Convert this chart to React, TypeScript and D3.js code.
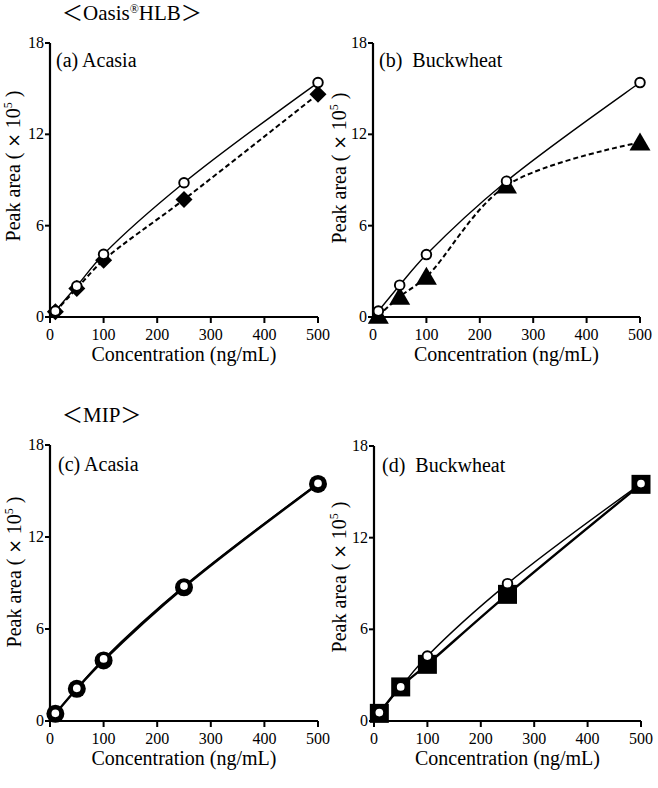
import React from "react";
import * as d3 from "d3";

// Concentration levels (ng/mL) and peak areas (×10^5)
const concentrations = [10, 50, 100, 250, 500];
const xTicks = [0, 100, 200, 300, 400, 500];
const yTicks = [0, 6, 12, 18];

const acasiaStdHLB = [0.39, 2.03, 4.12, 8.82, 15.4];
const acasiaHLB = [0.35, 1.88, 3.73, 7.72, 14.64];
const buckwheatStdHLB = [0.39, 2.09, 4.1, 8.92, 15.4];
const buckwheatHLB = [0.08, 1.33, 2.64, 8.64, 11.47];
const acasiaStdMIP = [0.5, 2.13, 4.05, 8.8, 15.5];
const acasiaMIP = [0.47, 2.1, 3.95, 8.72, 15.46];
const buckwheatStdMIP = [0.55, 2.23, 4.25, 8.99, 15.54];
const buckwheatMIP = [0.5, 2.23, 3.71, 8.29, 15.49];

const SERIF = '"Liberation Serif", "Times New Roman", "Noto Sans CJK JP", serif';

type Marker = "circle" | "diamond" | "triangle" | "square" | "bigcircle";

type PanelProps = {
  x0: number;
  x1: number;
  yTop: number;
  yBottom: number;
  label: string;
  labelX: number;
  labelY: number;
  yTitle: React.ReactNode;
  yTitleX: number;
  yTitleY: number;
  sample: number[];
  sampleMarker: Marker;
  sampleDash: string | undefined;
  sampleWidth: number;
  standard: number[];
};

function MarkerShape({ kind, cx, cy }: { kind: Marker; cx: number; cy: number }) {
  if (kind === "circle")
    return <circle cx={cx} cy={cy} r={4.8} fill="#fff" stroke="#000" strokeWidth={1.9} />;
  if (kind === "bigcircle") return <circle cx={cx} cy={cy} r={9} fill="#000" />;
  if (kind === "diamond") {
    const s = 8.5;
    return <path d={`M${cx},${cy - s}L${cx + s},${cy}L${cx},${cy + s}L${cx - s},${cy}Z`} fill="#000" />;
  }
  if (kind === "triangle") {
    const w = 10.5;
    return (
      <path d={`M${cx},${cy - 10}L${cx + w},${cy + 8}L${cx - w},${cy + 8}Z`} fill="#000" />
    );
  }
  const h = 9.5;
  return <rect x={cx - h} y={cy - h} width={2 * h} height={2 * h} fill="#000" />;
}

function Panel(p: PanelProps) {
  const x = d3.scaleLinear().domain([0, 500]).range([p.x0, p.x1]);
  const y = d3.scaleLinear().domain([0, 18]).range([p.yBottom, p.yTop]);
  const line = d3
    .line<number>()
    .x((_, i) => x(concentrations[i]))
    .y((v) => y(v))
    .curve(d3.curveCatmullRom.alpha(0.5));

  return (
    <g fontFamily={SERIF} fill="#000">
      {/* axes */}
      <line x1={p.x0} x2={p.x0} y1={p.yTop} y2={p.yBottom + 1} stroke="#000" strokeWidth={2.2} />
      <line x1={p.x0 - 1} x2={p.x1} y1={p.yBottom} y2={p.yBottom} stroke="#000" strokeWidth={2.2} />
      {yTicks.map((t) => (
        <g key={"y" + t}>
          <line x1={p.x0 - 5} x2={p.x0} y1={y(t)} y2={y(t)} stroke="#000" strokeWidth={2} />
          <text x={p.x0 - 6} y={y(t) + 5} textAnchor="end" fontSize={16}>
            {t}
          </text>
        </g>
      ))}
      {xTicks.map((t) => (
        <g key={"x" + t}>
          <line x1={x(t)} x2={x(t)} y1={p.yBottom} y2={p.yBottom + 6} stroke="#000" strokeWidth={2} />
          <text x={x(t)} y={p.yBottom + 23} textAnchor="middle" fontSize={16}>
            {t}
          </text>
        </g>
      ))}
      <text x={(p.x0 + p.x1) / 2} y={p.yBottom + 44} textAnchor="middle" fontSize={20}>
        Concentration (ng/mL)
      </text>
      <text
        transform={`translate(${p.yTitleX},${p.yTitleY}) rotate(-90)`}
        textAnchor="middle"
        fontSize={20}
      >
        {p.yTitle}
      </text>
      <text x={p.labelX} y={p.labelY} fontSize={20} style={{ whiteSpace: "pre" }}>
        {p.label}
      </text>

      {/* curves */}
      <path d={line(p.standard) || ""} fill="none" stroke="#000" strokeWidth={1.4} />
      <path
        d={line(p.sample) || ""}
        fill="none"
        stroke="#000"
        strokeWidth={p.sampleWidth}
        strokeDasharray={p.sampleDash}
      />
      {p.sample.map((v, i) => (
        <MarkerShape key={"s" + i} kind={p.sampleMarker} cx={x(concentrations[i])} cy={y(v)} />
      ))}
      {p.standard.map((v, i) => (
        <MarkerShape key={"c" + i} kind="circle" cx={x(concentrations[i])} cy={y(v)} />
      ))}
    </g>
  );
}

const yTitle = (
  <>
    Peak area ( <tspan fontFamily='"DejaVu Sans", sans-serif' fontSize={17}>×</tspan> 10
    <tspan fontSize={12} dy={-8}>5</tspan>
    <tspan dy={8}> )</tspan>
  </>
);

export default function App() {
  return (
    <svg
      width={658}
      height={788}
      viewBox="0 0 658 788"
      style={{ position: "absolute", left: 0, top: 0, background: "#fff" }}
    >
      <rect width={658} height={788} fill="#fff" />
      <text x={62} y={20} fontSize={21} fontFamily={SERIF}>
        ＜Oasis
        <tspan fontSize={12} dy={-7}>®</tspan>
        <tspan dy={7}>HLB＞</tspan>
      </text>
      <text x={62} y={422} fontSize={21} fontFamily={SERIF}>
        ＜MIP＞
      </text>

      <Panel
        x0={50}
        x1={318}
        yTop={43}
        yBottom={317}
        label="(a) Acasia"
        labelX={56}
        labelY={67}
        yTitle={yTitle}
        yTitleX={20}
        yTitleY={166}
        sample={acasiaHLB}
        sampleMarker="diamond"
        sampleDash="5,3"
        sampleWidth={2}
        standard={acasiaStdHLB}
      />
      <Panel
        x0={373}
        x1={640}
        yTop={43}
        yBottom={317}
        label="(b)  Buckwheat"
        labelX={379}
        labelY={67}
        yTitle={yTitle}
        yTitleX={346}
        yTitleY={168}
        sample={buckwheatHLB}
        sampleMarker="triangle"
        sampleDash="5,3"
        sampleWidth={2}
        standard={buckwheatStdHLB}
      />
      <Panel
        x0={50}
        x1={318}
        yTop={445}
        yBottom={721}
        label="(c) Acasia"
        labelX={58}
        labelY={471}
        yTitle={yTitle}
        yTitleX={21}
        yTitleY={572}
        sample={acasiaMIP}
        sampleMarker="bigcircle"
        sampleDash={undefined}
        sampleWidth={2.4}
        standard={acasiaStdMIP}
      />
      <Panel
        x0={374}
        x1={641}
        yTop={446}
        yBottom={721}
        label="(d)  Buckwheat"
        labelX={382}
        labelY={472}
        yTitle={yTitle}
        yTitleX={346}
        yTitleY={577}
        sample={buckwheatMIP}
        sampleMarker="square"
        sampleDash={undefined}
        sampleWidth={2.4}
        standard={buckwheatStdMIP}
      />
    </svg>
  );
}
